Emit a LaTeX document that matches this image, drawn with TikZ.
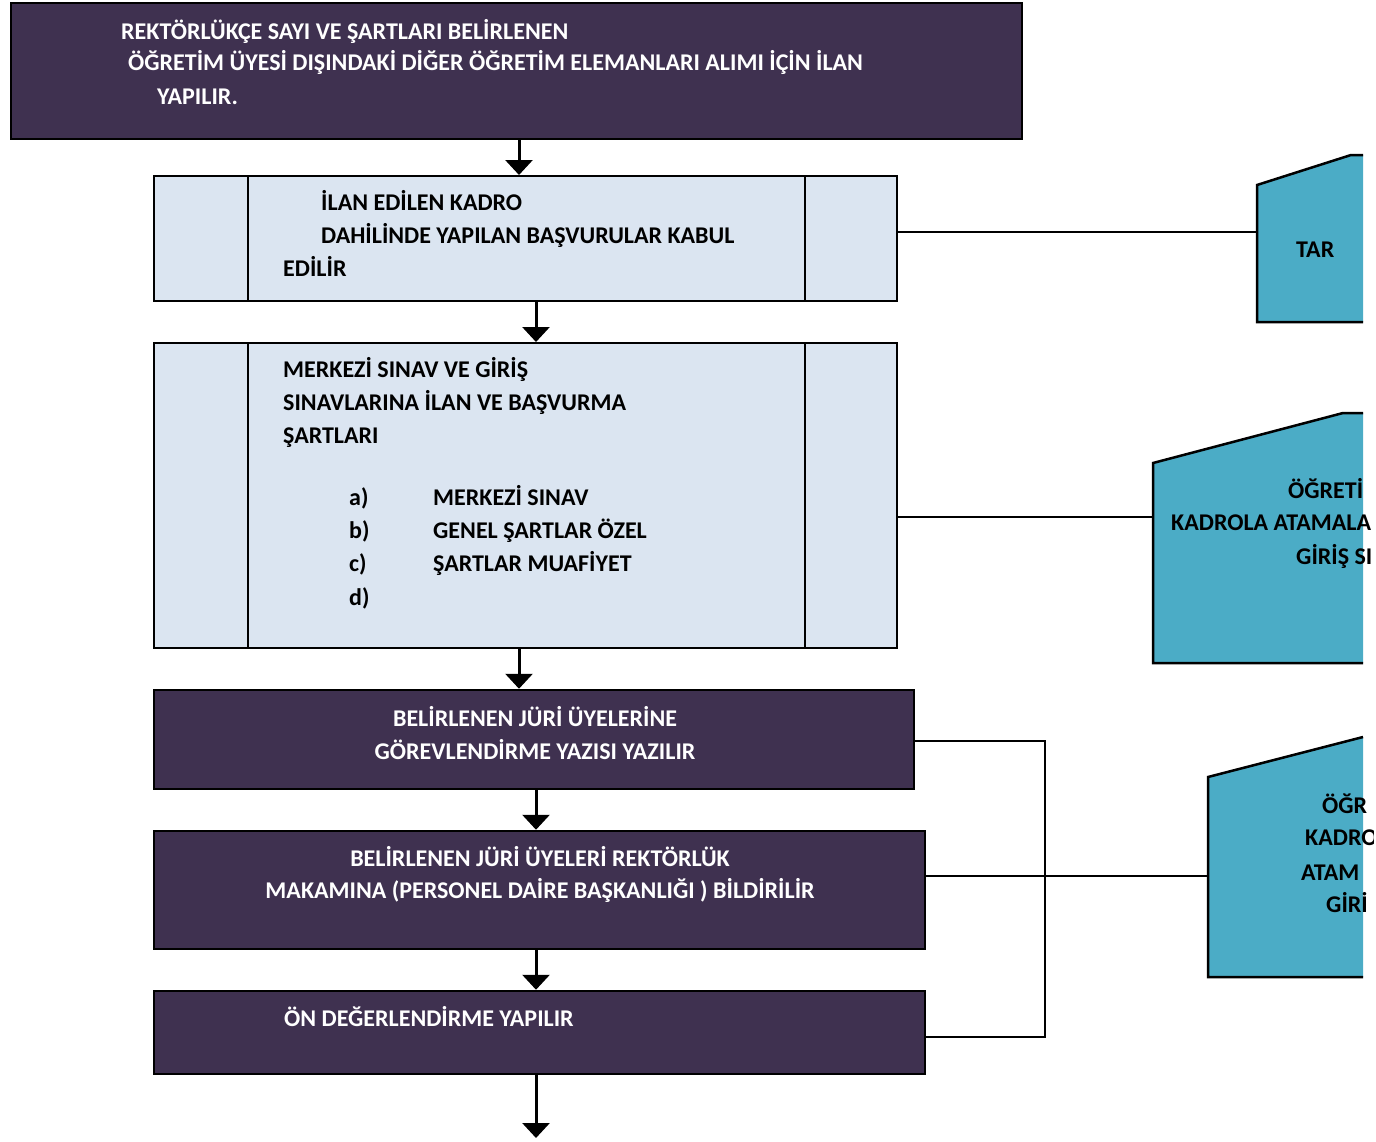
\documentclass[tikz,border=0pt]{standalone}
\usepackage{fontspec}
\setmainfont{Carlito}
\usetikzlibrary{arrows.meta}
\definecolor{darkp}{HTML}{3F3150}
\definecolor{lightb}{HTML}{DBE5F1}
\definecolor{teal}{HTML}{4BACC6}
\tikzset{
  darkbox/.style={draw=black,line width=2.5pt,fill=darkp,minimum width=#1,inner sep=0pt},
  procbox/.style={draw=black,line width=2pt,fill=lightb,inner sep=0pt},
  wtxt/.style={text=white,font=\bfseries\fontsize{24}{28}\selectfont,anchor=base west,inner sep=0pt},
  btxt/.style={text=black,font=\bfseries\fontsize{24}{28}\selectfont,anchor=base west,inner sep=0pt},
  arr/.style={line width=3pt,-{Triangle[width=27pt,length=15pt]}},
  conn/.style={line width=1.8pt},
  sideshape/.style={fill=teal},
  sideedge/.style={line width=2.5pt,line join=miter},
}
\begin{document}
\begin{tikzpicture}[x=1pt,y=-1pt]
\useasboundingbox (0,0) rectangle (1376,1141);
% boxes
\node[darkbox=1011pt,minimum height=136pt] (b1) at (516.5,71) {};
\node[procbox,minimum width=743pt,minimum height=125pt] (b2) at (525.5,238.5) {};
\node[procbox,minimum width=743pt,minimum height=305pt] (b3) at (525.5,495.5) {};
\draw[line width=2pt] (248,176) -- (248,301) (805,176) -- (805,301);
\draw[line width=2pt] (248,343) -- (248,648) (805,343) -- (805,648);
\node[darkbox=760pt,minimum height=99pt] (b4) at (534,739.5) {};
\node[darkbox=771pt,minimum height=118pt] (b5) at (539.5,890) {};
\node[darkbox=771pt,minimum height=83pt] (b6) at (539.5,1032.5) {};
% texts
\node[wtxt] (t1a) at (121,39) {REKTÖRLÜKÇE SAYI VE ŞARTLARI BELİRLENEN};
\node[wtxt] (t1b) at (128,70) {ÖĞRETİM ÜYESİ DIŞINDAKİ DİĞER ÖĞRETİM ELEMANLARI ALIMI İÇİN İLAN};
\node[wtxt] (t1c) at (157,104) {YAPILIR.};
\node[btxt] (t2a) at (321,210) {İLAN EDİLEN KADRO};
\node[btxt] (t2b) at (321,243) {DAHİLİNDE YAPILAN BAŞVURULAR KABUL};
\node[btxt] (t2c) at (283,276) {EDİLİR};
\node[btxt] (t3a) at (283,377) {MERKEZİ SINAV VE GİRİŞ};
\node[btxt] (t3b) at (283,410) {SINAVLARINA İLAN VE BAŞVURMA};
\node[btxt] (t3c) at (283,443) {ŞARTLARI};
\node[btxt] (la) at (349,505) {a)};
\node[btxt] (lb) at (349,538) {b)};
\node[btxt] (lc) at (349,571) {c)};
\node[btxt] (ld) at (349,605) {d)};
\node[btxt] (ia) at (433,505) {MERKEZİ SINAV};
\node[btxt] (ib) at (433,538) {GENEL ŞARTLAR ÖZEL};
\node[btxt] (ic) at (433,571) {ŞARTLAR MUAFİYET};
\node[wtxt,anchor=base] (t4a) at (535,726) {BELİRLENEN JÜRİ ÜYELERİNE};
\node[wtxt,anchor=base] (t4b) at (535,759) {GÖREVLENDİRME YAZISI YAZILIR};
\node[wtxt,anchor=base] (t5a) at (540,866) {BELİRLENEN JÜRİ ÜYELERİ REKTÖRLÜK};
\node[wtxt,anchor=base] (t5b) at (540,898) {MAKAMINA (PERSONEL DAİRE BAŞKANLIĞI ) BİLDİRİLİR};
\node[wtxt] (t6) at (284,1026) {ÖN DEĞERLENDİRME YAPILIR};
% side shapes
\fill[sideshape] (1257,185) -- (1351,155) -- (1363,155) -- (1363,322) -- (1257,322) -- cycle;
\draw[sideedge] (1363,155) -- (1351,155) -- (1257,185) -- (1257,322) -- (1363,322);
\coordinate (s1) at (1257,232);
\fill[sideshape] (1153,463) -- (1343,413) -- (1363,413) -- (1363,663) -- (1153,663) -- cycle;
\draw[sideedge] (1363,413) -- (1343,413) -- (1153,463) -- (1153,663) -- (1363,663);
\coordinate (s2) at (1153,517);
\fill[sideshape] (1208,777) -- (1363,737) -- (1363,977) -- (1208,977) -- cycle;
\draw[sideedge] (1363,737) -- (1208,777) -- (1208,977) -- (1363,977);
\coordinate (s3) at (1208,876);
\begin{scope}
\clip (0,0) rectangle (1373,1141);
\node[btxt] (r1) at (1296,257) {TAR};
\node[btxt] (r2a) at (1288,498) {ÖĞRETİ};
\node[btxt] (r2b) at (1171,530) {KADROLA ATAMALA};
\node[btxt] (r2c) at (1296,564) {GİRİŞ SI};
\node[btxt] (r3a) at (1322,813) {ÖĞR};
\node[btxt] (r3b) at (1305,845) {KADRO};
\node[btxt] (r3c) at (1301,880) {ATAM};
\node[btxt] (r3d) at (1326,912) {GİRİ};
\end{scope}
% connectors
\draw[conn] (b2.east |- s1) -- (s1);
\draw[conn] (b3.east |- s2) -- (s2);
\coordinate (k1) at (1045,741);
\coordinate (k2) at (1045,1037);
\draw[conn] (b4.east |- k1) -- (k1) -- (k2) -- (b6.east |- k2);
\draw[conn] (b5.east |- s3) -- (s3);
% arrows
\coordinate (e6) at (536,1138);
\draw[arr] (b1.south -| 519,0) -- (b2.north -| 519,0);
\draw[arr] (b2.south -| 536,0) -- (b3.north -| 536,0);
\draw[arr] (b3.south -| 519,0) -- (b4.north -| 519,0);
\draw[arr] (b4.south -| 536,0) -- (b5.north -| 536,0);
\draw[arr] (b5.south -| 536,0) -- (b6.north -| 536,0);
\draw[arr] (b6.south -| e6) -- (e6);
\end{tikzpicture}
\end{document}
